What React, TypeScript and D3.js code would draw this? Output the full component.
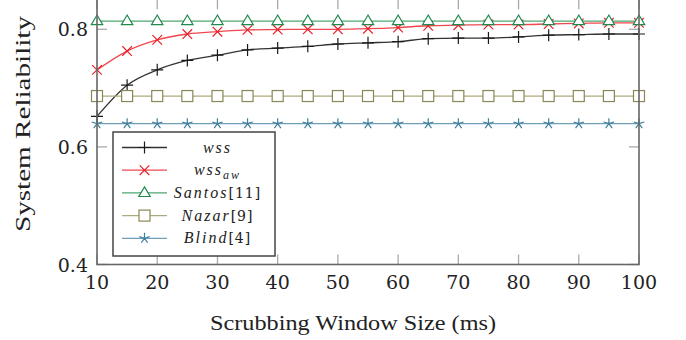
import React from 'react';
import * as d3 from 'd3';

// window sizes (ms)
const windowSizes = [10, 15, 20, 25, 30, 35, 40, 45, 50, 55, 60, 65, 70, 75, 80, 85, 90, 95, 100];

const wss = [0.652, 0.705, 0.731, 0.747, 0.756, 0.765, 0.768, 0.771, 0.775, 0.777, 0.779, 0.784, 0.785, 0.785, 0.787, 0.79, 0.791, 0.792, 0.792];
const wssAw = [0.731, 0.763, 0.782, 0.792, 0.796, 0.799, 0.7995, 0.8, 0.8, 0.801, 0.803, 0.806, 0.807, 0.808, 0.808, 0.809, 0.81, 0.811, 0.811];
const santos = windowSizes.map(() => 0.814);
const nazar = windowSizes.map(() => 0.6865);
const blind = windowSizes.map(() => 0.6395);

const xTicks = [10, 20, 30, 40, 50, 60, 70, 80, 90, 100];
const yTicks = [0.4, 0.6, 0.8];

type MarkKind = 'plus' | 'cross' | 'triangle' | 'square' | 'star';

const series = [
  { key: 'wss', label: 'wss', sub: '', ref: '', values: wss, color: '#1a1a1a', line: '#333333', mark: 'plus' as MarkKind },
  { key: 'wssaw', label: 'wss', sub: 'aw', ref: '', values: wssAw, color: '#e8202a', line: '#f0474f', mark: 'cross' as MarkKind },
  { key: 'santos', label: 'Santos', sub: '', ref: '[11]', values: santos, color: '#1e8a4c', line: '#4fa672', mark: 'triangle' as MarkKind },
  { key: 'nazar', label: 'Nazar', sub: '', ref: '[9]', values: nazar, color: '#8c8756', line: '#aeaa80', mark: 'square' as MarkKind },
  { key: 'blind', label: 'Blind', sub: '', ref: '[4]', values: blind, color: '#3f7f9c', line: '#6fa0b8', mark: 'star' as MarkKind },
];

const W = 686;
const H = 340;
const serif = { fontFamily: '"Liberation Serif", serif' };
// digits of Liberation Serif fall back to a sans face here, so numbers use DejaVu Serif
const digits = { fontFamily: '"DejaVu Serif", serif' };

const x = d3.scaleLinear().domain([10, 100]).range([97, 639]);
const y = d3.scaleLinear().domain([0.4, 0.8]).range([264.5, 29.3]);
const yTop = y(0.856);

function Marker({ kind, cx, cy, color }: { kind: MarkKind; cx: number; cy: number; color: string }) {
  const sw = 1.2;
  if (kind === 'plus') {
    const s = 6;
    return <path d={`M${cx - s},${cy}H${cx + s}M${cx},${cy - s}V${cy + s}`} stroke={color} strokeWidth={sw} fill="none" />;
  }
  if (kind === 'cross') {
    const s = 4.8;
    return <path d={`M${cx - s},${cy - s}L${cx + s},${cy + s}M${cx - s},${cy + s}L${cx + s},${cy - s}`} stroke={color} strokeWidth={sw} fill="none" />;
  }
  if (kind === 'triangle') {
    const s = 6;
    return <path d={`M${cx},${cy - s}L${cx + s * 0.95},${cy + s * 0.6}L${cx - s * 0.95},${cy + s * 0.6}Z`} stroke={color} strokeWidth={sw} fill="white" />;
  }
  if (kind === 'square') {
    const s = 5.5;
    return <rect x={cx - s} y={cy - s} width={2 * s} height={2 * s} stroke={color} strokeWidth={sw} fill="white" />;
  }
  const r = 5.5;
  const d = d3.range(5).map(i => {
    const a = -Math.PI / 2 + (i * 2 * Math.PI) / 5;
    return `M${cx},${cy}L${cx + r * Math.cos(a)},${cy + r * Math.sin(a)}`;
  }).join('');
  return <path d={d} stroke={color} strokeWidth={sw} fill="none" />;
}

export default function App() {
  const line = d3.line<number>()
    .x((_, i) => x(windowSizes[i]))
    .y(v => y(v))
    .curve(d3.curveMonotoneX);

  const tickLen = 10;
  const legend = { x: 113, y: 132, w: 162, h: 124, row0: 147.5, step: 22.7 };

  return (
    <svg width={W} height={H} style={{ position: 'absolute', left: 0, top: 0, background: 'white' }}>
      {/* ticks */}
      <g stroke="#aaaaaa" strokeWidth={1.3}>
        {xTicks.map(t => (
          <g key={'xt' + t}>
            <line x1={x(t)} x2={x(t)} y1={y(0.4)} y2={y(0.4) - tickLen} />
            <line x1={x(t)} x2={x(t)} y1={yTop} y2={yTop + tickLen + 3} />
          </g>
        ))}
        {yTicks.map(t => (
          <g key={'yt' + t}>
            <line x1={x(10)} x2={x(10) + tickLen} y1={y(t)} y2={y(t)} />
            <line x1={x(100)} x2={x(100) - tickLen} y1={y(t)} y2={y(t)} />
          </g>
        ))}
      </g>

      {/* series */}
      {series.map(s => (
        <g key={s.key}>
          <path d={line(s.values) || ''} fill="none" stroke={s.line} strokeWidth={1.3} />
          {s.values.map((v, i) => (
            <Marker key={i} kind={s.mark} cx={x(windowSizes[i])} cy={y(v)} color={s.color} />
          ))}
        </g>
      ))}

      {/* frame */}
      <rect x={x(10)} y={yTop} width={x(100) - x(10)} height={y(0.4) - yTop} fill="none" stroke="#666666" strokeWidth={1.6} />

      {/* tick labels */}
      {xTicks.map(t => (
        <text key={'xl' + t} x={x(t)} y={289} textAnchor="middle" fontSize={19} fill="#222" style={digits}>{t}</text>
      ))}
      {yTicks.map(t => (
        <text key={'yl' + t} x={88} y={y(t) + 7} textAnchor="end" fontSize={19} fill="#222" style={digits}>{t.toFixed(1)}</text>
      ))}

      {/* axis titles */}
      <text x={353} y={330} fontSize={21} fill="#222" textAnchor="middle" textLength={286} lengthAdjust="spacingAndGlyphs" style={serif}>
        Scrubbing Window Size (ms)
      </text>
      <text transform="translate(30,124) rotate(-90)" fontSize={21} fill="#222" textAnchor="middle" textLength={216} lengthAdjust="spacingAndGlyphs" style={serif}>
        System Reliability
      </text>

      {/* legend */}
      <rect x={legend.x} y={legend.y} width={legend.w} height={legend.h} fill="white" stroke="#444" strokeWidth={1.5} />
      {series.map((s, i) => {
        const ly = legend.row0 + i * legend.step;
        return (
          <g key={'lg' + s.key}>
            <line x1={122} x2={167} y1={ly} y2={ly} stroke={s.line} strokeWidth={1.3} />
            <Marker kind={s.mark} cx={144.5} cy={ly} color={s.color} />
            <text x={217.5} y={ly + 5} fontSize={16} fill="#222" textAnchor="middle" style={serif}>
              <tspan fontStyle="italic" letterSpacing={2}>{s.label}</tspan>
              {s.sub && <tspan fontStyle="italic" fontSize={12} dy={4} letterSpacing={2}>{s.sub}</tspan>}
              {s.ref && <tspan fontSize={14} letterSpacing={1} style={digits}>{s.ref}</tspan>}
            </text>
          </g>
        );
      })}
    </svg>
  );
}
